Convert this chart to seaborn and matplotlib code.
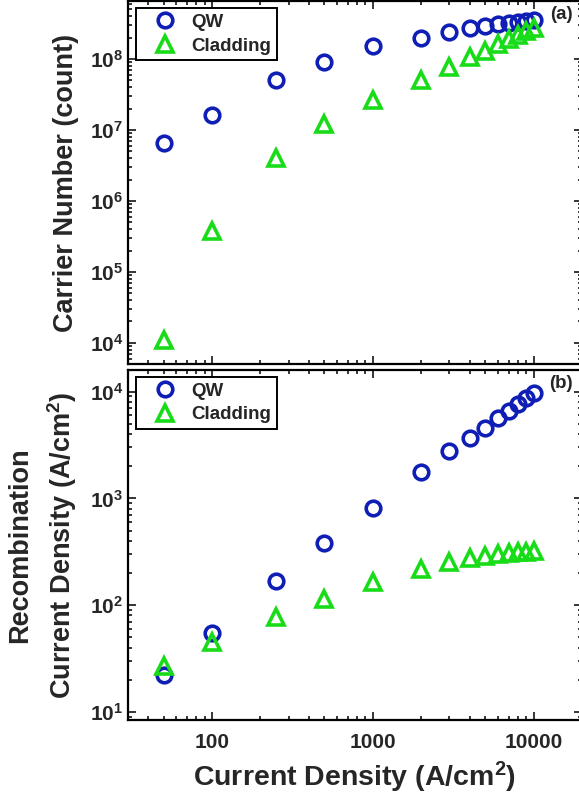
import numpy as np
import pandas as pd
import seaborn as sns
import matplotlib.pyplot as plt
from matplotlib.ticker import FixedLocator, NullFormatter, LogLocator

# current density (A/cm2)
current_density = [50, 100, 250, 500, 1000, 2000, 3000, 4000, 5000, 6000, 7000, 8000, 9000, 10000]

# panel (a): carrier number
carriers_qw = [6.6e6, 1.6e7, 5.0e7, 9.0e7, 1.5e8, 2.0e8, 2.4e8, 2.7e8, 2.9e8, 3.1e8, 3.2e8, 3.3e8, 3.4e8, 3.55e8]
carriers_clad = [1.1e4, 3.8e5, 4.0e6, 1.2e7, 2.6e7, 5.0e7, 7.7e7, 1.07e8, 1.3e8, 1.6e8, 1.9e8, 2.2e8, 2.5e8, 2.7e8]

# panel (b): recombination current density
recomb_qw = [22, 55, 170, 380, 820, 1750, 2750, 3700, 4600, 5700, 6650, 7700, 8700, 9800]
recomb_clad = [27, 45, 78, 115, 165, 220, 255, 275, 290, 300, 305, 312, 318, 322]

series = ["QW", "Cladding"]
colors = {"QW": "#0f1eb4", "Cladding": "#19dc19"}
markers = {"QW": "o", "Cladding": "^"}

sns.set_theme(style="ticks")
plt.rcParams["font.family"] = ["Liberation Sans", "DejaVu Sans"]
plt.rcParams["font.weight"] = "bold"
plt.rcParams["axes.labelweight"] = "bold"
plt.rcParams["mathtext.fontset"] = "custom"
plt.rcParams["mathtext.rm"] = "Liberation Sans:bold"
plt.rcParams["mathtext.it"] = "Liberation Sans:bold"
plt.rcParams["mathtext.bf"] = "Liberation Sans:bold"
plt.rcParams["mathtext.default"] = "regular"

df_a = pd.DataFrame({"J": current_density * 2,
                     "val": carriers_qw + carriers_clad,
                     "kind": ["QW"] * len(current_density) + ["Cladding"] * len(current_density)})
df_b = pd.DataFrame({"J": current_density * 2,
                     "val": recomb_qw + recomb_clad,
                     "kind": ["QW"] * len(current_density) + ["Cladding"] * len(current_density)})

fig = plt.figure(figsize=(5.79, 7.97), dpi=100)
ax_a = fig.add_axes([0.221, 0.543, 0.784, 0.456])
ax_b = fig.add_axes([0.221, 0.0966, 0.784, 0.4394])


def draw(ax, df, ylim, label):
    ax.set_xscale("log")
    ax.set_yscale("log")
    for s in series:
        sub = df[df["kind"] == s]
        ms = 10.5 if s == "QW" else 11.5
        sns.lineplot(data=sub, x="J", y="val", ax=ax, label=s, linestyle="",
                     marker=markers[s], markersize=ms, markerfacecolor="none",
                     markeredgecolor=colors[s], markeredgewidth=2.6, color=colors[s])
    ax.set_xlim(30, 20000)
    ax.set_ylim(*ylim)
    ax.xaxis.set_major_locator(FixedLocator([100, 1000, 10000]))
    ax.xaxis.set_minor_locator(LogLocator(base=10, subs=np.arange(2, 10), numticks=20))
    ax.yaxis.set_major_locator(LogLocator(base=10, numticks=20))
    ax.yaxis.set_minor_locator(LogLocator(base=10, subs=np.arange(2, 10), numticks=20))
    ax.yaxis.set_minor_formatter(NullFormatter())
    ax.xaxis.set_minor_formatter(NullFormatter())
    ax.tick_params(which="both", direction="in", top=True, right=True, labelsize=15, width=1.3)
    ax.tick_params(axis="x", pad=9)
    ax.tick_params(which="major", length=6)
    ax.tick_params(which="minor", length=3)
    for sp in ax.spines.values():
        sp.set_linewidth(1.6)
        sp.set_color("black")
    ax.set_ylabel(label, fontsize=19.5, fontweight="bold", linespacing=1.45)
    leg = ax.legend(loc="upper left", fontsize=13.5, fancybox=False, frameon=True,
                    edgecolor="black", framealpha=1, handletextpad=0.2, handlelength=2.45,
                    borderpad=0.3, labelspacing=0.35, borderaxespad=0,
                    bbox_to_anchor=(0.018, 0.98))
    leg.get_frame().set_linewidth(1.4)
    for t in leg.get_texts():
        t.set_fontweight("bold")


draw(ax_a, df_a, (5e3, 6.6e8), "Carrier Number (count)")
draw(ax_b, df_b, (8.4, 1.6e4), "Recombination\nCurrent Density (A/cm$^2$)")

ax_a.set_xlabel("")
ax_a.tick_params(labelbottom=False)
ax_b.set_xticklabels(["100", "1000", "10000"])
ax_b.set_xlabel("Current Density (A/cm$^2$)", fontsize=20.5, fontweight="bold", labelpad=6)

ax_a.text(0.98, 0.985, "(a)", transform=ax_a.transAxes, ha="right", va="top",
          fontsize=13.5, fontweight="bold")
ax_b.text(0.98, 0.985, "(b)", transform=ax_b.transAxes, ha="right", va="top",
          fontsize=13.5, fontweight="bold")

ax_a.yaxis.set_label_coords(-0.108, 0.5)
ax_b.yaxis.set_label_coords(-0.108, 0.5)

fig.savefig("out.png", dpi=100)
